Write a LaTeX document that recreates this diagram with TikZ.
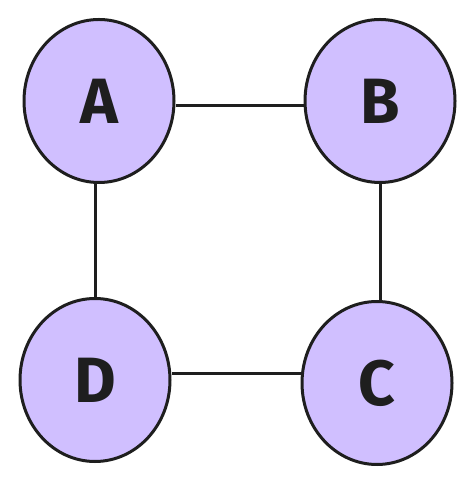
\documentclass[tikz,border=0pt]{standalone}
\usepackage{fontspec}
\setmainfont{Fira Sans}
\usetikzlibrary{shapes.geometric}
\definecolor{nodefill}{HTML}{D0BFFF}
\definecolor{ink}{HTML}{1E1E1E}
\tikzset{
  circ/.style={ellipse, draw=ink, fill=nodefill, line width=3pt, minimum width=150pt, minimum height=163pt, inner sep=0pt, font=\fontsize{64}{64}\selectfont\bfseries, text=ink},
  edge/.style={draw=ink, line width=3pt}
}
\begin{document}
\begin{tikzpicture}[x=1pt,y=1pt]
\useasboundingbox (0,0) rectangle (475,486);
\node[circ] (A) at (99,385) {A};
\node[circ] (B) at (380,385) {B};
\node[circ] (D) at (95,106) {D};
\node[circ] (C) at (377,103) {C};
\draw[edge] ([yshift=-5pt]A.east) -- ([yshift=-5pt]B.west);
\draw[edge] (A.south -| D.north) -- (D.north);
\draw[edge] (B.south) -- (B.south |- C.north);
\draw[edge] ([yshift=6pt]D.east) -- ([yshift=9pt]C.west);
\end{tikzpicture}
\end{document}
